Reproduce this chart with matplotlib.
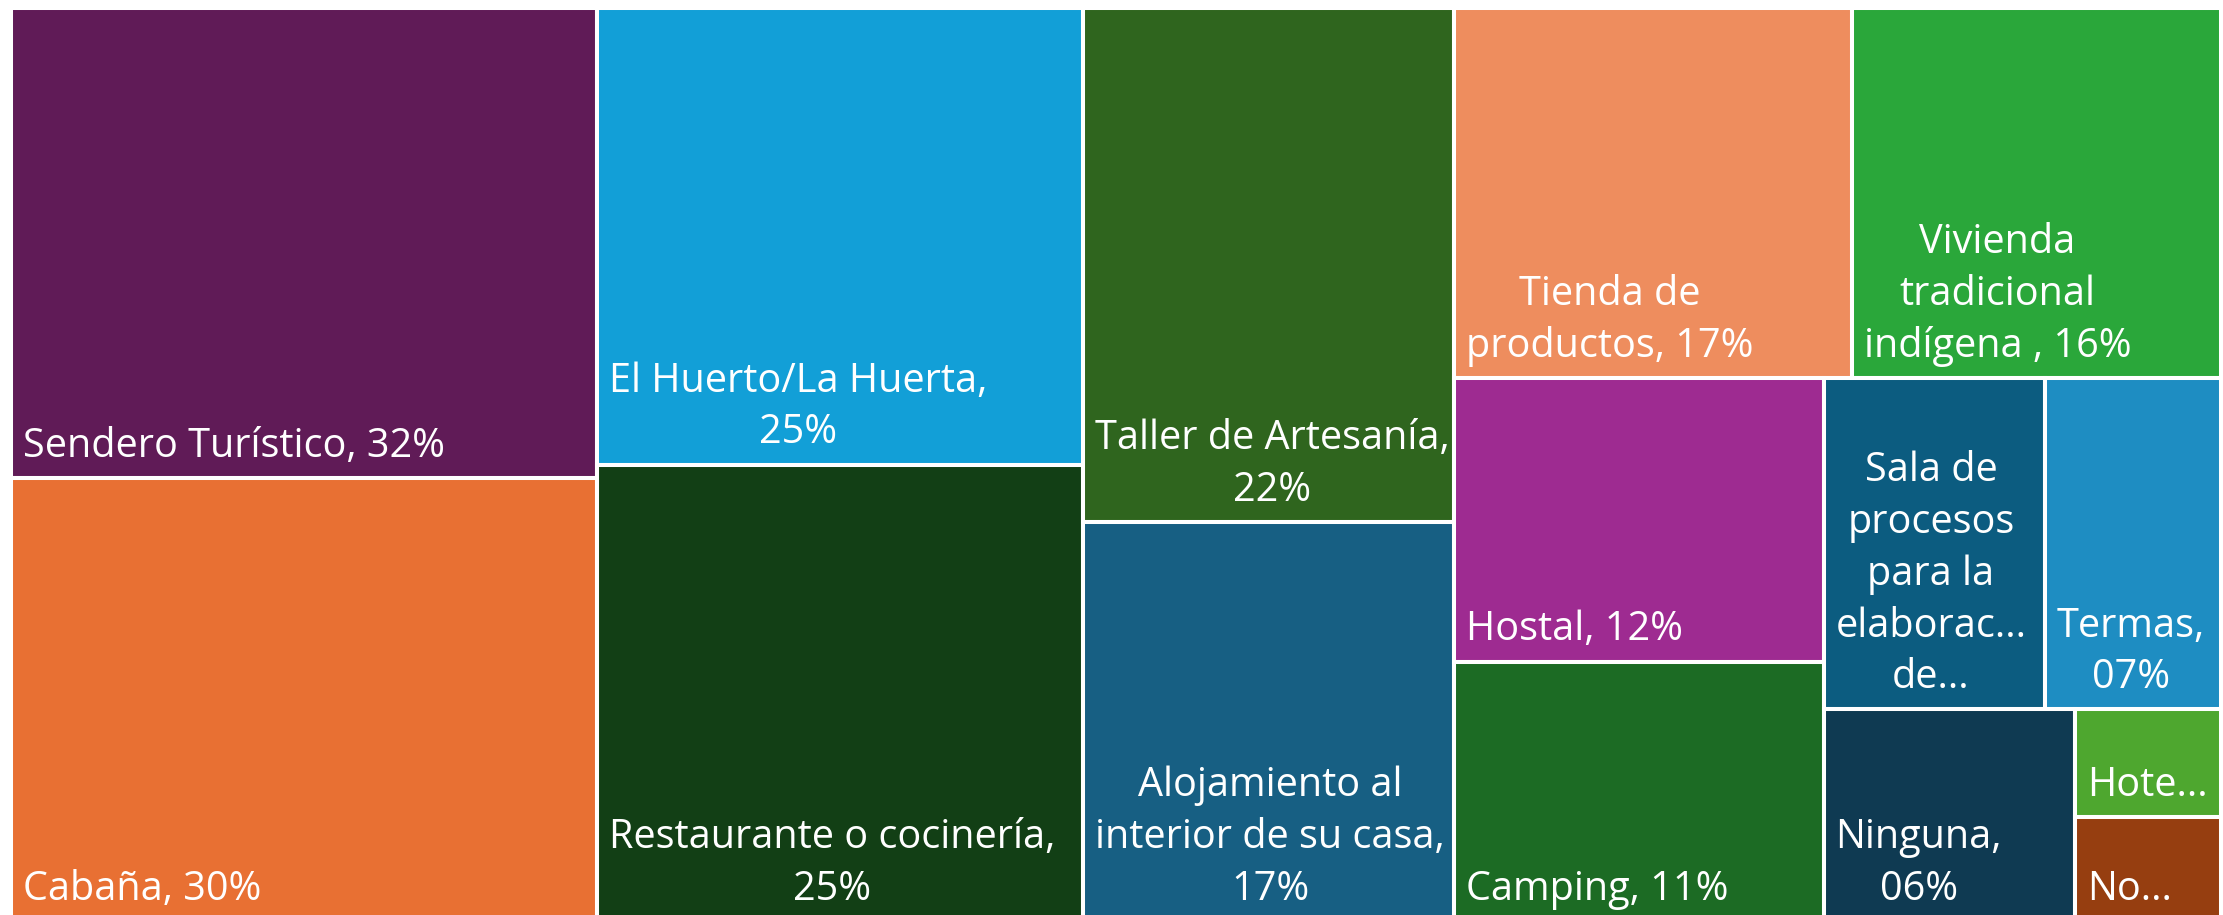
import matplotlib
matplotlib.use('Agg')
import matplotlib.pyplot as plt
from matplotlib.patches import Rectangle

plt.rcParams['font.family'] = ['Open Sans', 'DejaVu Sans']

# categorias del treemap (orden de mayor a menor)
categorias = ['Sendero Turístico', 'Cabaña', 'El Huerto/La Huerta', 'Restaurante o cocinería',
              'Taller de Artesanía', 'Alojamiento al interior de su casa', 'Tienda de productos',
              'Vivienda tradicional indígena', 'Hostal', 'Camping',
              'Sala de procesos para la elaboración de productos', 'Termas', 'Ninguna',
              'Hotel', 'No sabe']
# porcentaje (%) estimado a partir del área de cada rectángulo
valores = [31.6, 29.8, 25.5, 25.5, 21.9, 17.0, 16.9, 15.7, 12, 11, 8.4, 6.7, 6.1, 1.8, 1.75]
# etiquetas tal como aparecen (Excel corta/ajusta el texto)
etiquetas = ['Sendero Turístico, 32%', 'Cabaña, 30%', 'El Huerto/La Huerta,\n25%',
             'Restaurante o cocinería,\n25%', 'Taller de Artesanía,\n22%',
             'Alojamiento al\ninterior de su casa,\n17%', 'Tienda de\nproductos, 17%',
             'Vivienda\ntradicional\nindígena , 16%', 'Hostal, 12%', 'Camping, 11%',
             'Sala de\nprocesos\npara la\nelaborac...\nde...', 'Termas,\n07%', 'Ninguna,\n06%',
             'Hote...', 'No...']
colores = ['#601B57', '#E87033', '#129FD7', '#123F15', '#2F651E', '#175F83', '#EE8D5E',
           '#2AA73A', '#9E2B91', '#1C6B24', '#0C5C80', '#1E8DC2', '#0F3A52', '#4EA72F', '#963E10']


def worst(row, side):
    s = sum(row)
    return max(max(side * side * r / (s * s), s * s / (side * side * r)) for r in row)


def squarify(areas, x, y, dx, dy):
    rects = []
    areas = list(areas)
    while areas:
        side = min(dx, dy)
        row = [areas[0]]
        i = 1
        while i < len(areas) and worst(row + [areas[i]], side) <= worst(row, side):
            row.append(areas[i])
            i += 1
        areas = areas[i:]
        s = sum(row)
        if dx >= dy:
            w = s / dy
            yy = y
            for a in row:
                rects.append((x, yy, w, a / w))
                yy += a / w
            x += w
            dx -= w
        else:
            h = s / dx
            xx = x
            for a in row:
                rects.append((xx, y, a / h, h))
                xx += a / h
            y += h
            dy -= h
    return rects


W, H = 2210.0, 913.0
total = sum(valores)
areas = [v / total * W * H for v in valores]
rects = squarify(areas, 0, 0, W, H)

fig = plt.figure(figsize=(22.23, 9.15), dpi=100)
ax = fig.add_axes([11 / 2223, -6 / 915, W / 2223, H / 915])
ax.set_xlim(0, W)
ax.set_ylim(H, 0)
ax.axis('off')

for (x, y, w, h), col, lab in zip(rects, colores, etiquetas):
    ax.add_patch(Rectangle((x, y), w, h, facecolor=col, edgecolor='white', linewidth=2.9))
    ax.annotate(lab, xy=(x, y + h), xytext=(8.5, 8), textcoords='offset points',
                ha='left', va='bottom', multialignment='center', color='white',
                fontsize=28.5, linespacing=1.37)

fig.savefig('out.png', dpi=100, facecolor='white')
